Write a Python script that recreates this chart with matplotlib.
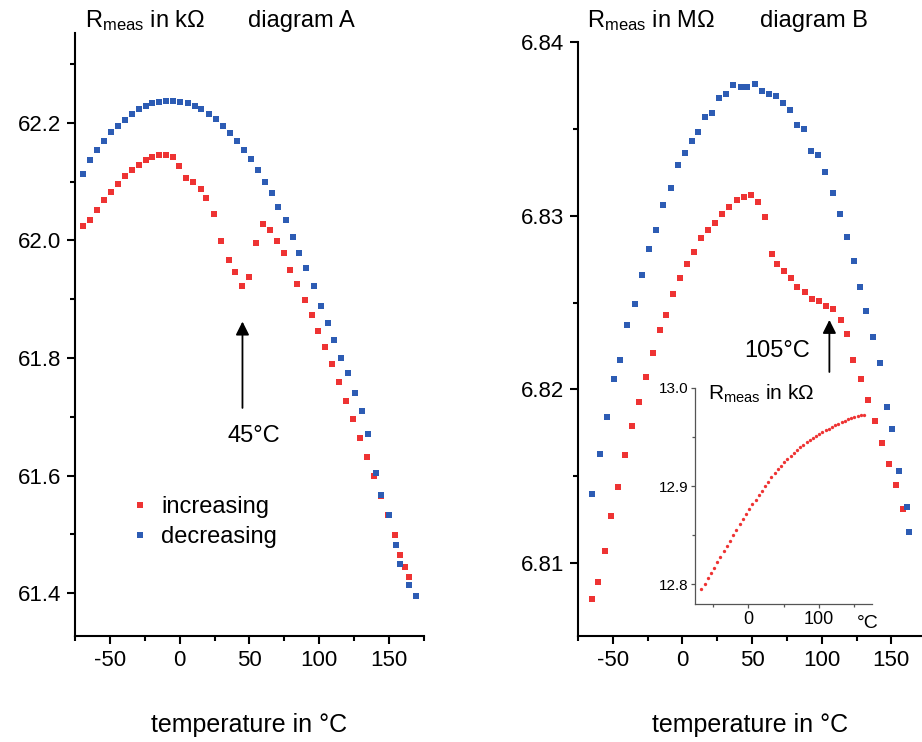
import matplotlib
matplotlib.use("Agg")
import matplotlib.pyplot as plt
from matplotlib.ticker import MultipleLocator, FormatStrFormatter

plt.rcParams['font.family'] = ['Liberation Sans', 'DejaVu Sans']
plt.rcParams['mathtext.default'] = 'regular'
plt.rcParams['axes.unicode_minus'] = False

RED = '#EE3333'
BLUE = '#2D5CB4'

# diagram A: resistance in kOhm, heating run
temp_a_inc = [-69, -64.5, -59.5, -54, -49, -44.5, -39.5, -34, -29, -24, -19.5, -14.5, -10, -5,
              -0.5, 4.5, 9.5, 15, 19, 24.5, 29.5, 35, 40, 44.5, 50, 55, 59.5, 64.5, 69.5, 74.5,
              79, 84, 89.5, 94.5, 99, 104, 109, 114.5, 119.5, 124, 129, 134.5, 139, 144, 149,
              154, 158, 161.5, 164.5]
res_a_inc = [62.025, 62.035, 62.052, 62.068, 62.083, 62.096, 62.109, 62.120, 62.129, 62.136,
             62.142, 62.145, 62.146, 62.142, 62.127, 62.106, 62.100, 62.088, 62.072, 62.045,
             61.999, 61.967, 61.947, 61.923, 61.937, 61.996, 62.028, 62.017, 61.999, 61.978,
             61.949, 61.926, 61.899, 61.873, 61.846, 61.818, 61.789, 61.759, 61.727, 61.696,
             61.663, 61.631, 61.599, 61.565, 61.532, 61.499, 61.465, 61.445, 61.428]

# diagram A: cooling run
temp_a_dec = [-69, -64, -59, -54, -49, -44.5, -39.5, -34, -29, -24, -19.5, -15, -9.5, -4.5,
              0.5, 6, 11, 15.5, 21, 26, 31, 36, 41, 46, 51, 56, 61, 66, 70.5, 76, 81, 85.5,
              90.5, 96, 101, 106, 110.5, 115.5, 120.5, 125.5, 130.5, 135, 140.5, 144.5, 150,
              155, 158, 164, 169]
res_a_dec = [62.113, 62.136, 62.154, 62.169, 62.184, 62.195, 62.205, 62.215, 62.223, 62.229,
             62.234, 62.236, 62.238, 62.238, 62.236, 62.233, 62.229, 62.223, 62.215, 62.206,
             62.195, 62.182, 62.169, 62.153, 62.138, 62.119, 62.099, 62.080, 62.057, 62.034,
             62.006, 61.979, 61.953, 61.923, 61.889, 61.859, 61.830, 61.800, 61.774, 61.741,
             61.710, 61.670, 61.604, 61.567, 61.533, 61.482, 61.450, 61.414, 61.395]

# diagram B: resistance in MOhm, heating run
temp_b_inc = [-65, -60.5, -55.5, -51, -46, -41, -36, -31, -26, -21, -16, -12, -6.5, -1.5, 3,
              8, 13, 18, 23.5, 28.5, 33.5, 39, 44, 49, 54, 59, 64.5, 68, 73, 78, 82.5, 88, 93,
              98, 103, 108, 113.5, 118, 122.5, 128, 133.5, 138.5, 143, 148.5, 153.5, 158]
res_b_inc = [6.8079, 6.8089, 6.8107, 6.8127, 6.8144, 6.8162, 6.8179, 6.8193, 6.8207, 6.8221,
             6.8234, 6.8243, 6.8255, 6.8264, 6.8272, 6.8279, 6.8287, 6.8292, 6.8296, 6.8301,
             6.8305, 6.8309, 6.8311, 6.8312, 6.8308, 6.8299, 6.8278, 6.8272, 6.8268, 6.8264,
             6.8259, 6.8256, 6.8252, 6.8251, 6.8248, 6.8246, 6.8240, 6.8232, 6.8217, 6.8206,
             6.8194, 6.8182, 6.8169, 6.8157, 6.8145, 6.8131]

# diagram B: cooling run
temp_b_dec = [-65, -59, -54.5, -49, -44.5, -39.5, -34, -29, -24, -19, -14, -8.5, -3.5, 1.5,
              6.5, 11.5, 16, 21.5, 26.5, 31.5, 36.5, 42, 46.5, 52, 57, 62, 67.5, 72.5, 77.5,
              82, 87, 92, 97.5, 102.5, 108, 113, 118, 123, 127.5, 132, 136.5, 141.5, 147,
              150.5, 155.5, 161, 163]
res_b_dec = [6.8140, 6.8163, 6.8184, 6.8206, 6.8217, 6.8237, 6.8249, 6.8266, 6.8281, 6.8292,
             6.8306, 6.8316, 6.8329, 6.8336, 6.8343, 6.8348, 6.8357, 6.8359, 6.8368, 6.8370,
             6.8375, 6.8374, 6.8374, 6.8376, 6.8372, 6.8370, 6.8369, 6.8365, 6.8361, 6.8352,
             6.8350, 6.8337, 6.8335, 6.8325, 6.8313, 6.8301, 6.8288, 6.8274, 6.8259, 6.8245,
             6.8230, 6.8215, 6.8190, 6.8177, 6.8153, 6.8132, 6.8118]

# inset: reference resistor in kOhm
temp_ref = [-66, -61.5, -57, -52.5, -48, -43.5, -39, -34.5, -30, -25.5, -21, -16.5, -12, -7.5,
            -3, 1.5, 6, 10.5, 15, 19.5, 24, 28.5, 33, 37.5, 42, 46.5, 51, 55.5, 60, 64.5, 69,
            73.5, 78, 82.5, 87, 91.5, 96, 100.5, 105, 109.5, 114, 118.5, 123, 127.5, 132,
            136.5, 141, 145.5, 150, 154.5, 159, 163.5]
res_ref = [12.795, 12.8005, 12.806, 12.8115, 12.817, 12.8225, 12.828, 12.8335, 12.839, 12.8445,
           12.850, 12.8555, 12.861, 12.8663, 12.8715, 12.8766, 12.8815, 12.8863, 12.891,
           12.8955, 12.900, 12.9045, 12.909, 12.913, 12.917, 12.921, 12.925, 12.928, 12.931,
           12.934, 12.937, 12.9395, 12.942, 12.9445, 12.947, 12.949, 12.951, 12.953, 12.955,
           12.957, 12.9585, 12.960, 12.962, 12.9635, 12.965, 12.9665, 12.968, 12.969, 12.970,
           12.971, 12.972, 12.973]


def style_axes(ax, ymajor, yminor, size=16, lw=1.5):
    for side in ('top', 'right'):
        ax.spines[side].set_visible(False)
    for side in ('left', 'bottom'):
        ax.spines[side].set_linewidth(lw)
    ax.xaxis.set_major_locator(MultipleLocator(50))
    ax.xaxis.set_minor_locator(MultipleLocator(25))
    ax.yaxis.set_major_locator(MultipleLocator(ymajor))
    ax.yaxis.set_minor_locator(MultipleLocator(yminor))
    ax.tick_params(which='major', length=6, width=lw, labelsize=size, pad=4)
    ax.tick_params(which='minor', length=3.5, width=lw)
    ax.patch.set_alpha(0)


fig = plt.figure(figsize=(9.22, 7.42), dpi=100)

# ---- diagram A ----
ax1 = fig.add_axes([0.0813, 0.1429, 0.3785, 0.8127])
ax1.plot(temp_a_inc, res_a_inc, 's', color=RED, ms=5, mew=0, label='increasing')
ax1.plot(temp_a_dec, res_a_dec, 's', color=BLUE, ms=5, mew=0, label='decreasing')
ax1.set_xlim(-75, 175)
ax1.set_ylim(61.327, 62.353)
style_axes(ax1, 0.2, 0.1)
ax1.yaxis.set_major_formatter(FormatStrFormatter('%.1f'))
ax1.set_xlabel('temperature in °C', fontsize=18, labelpad=30)
ax1.annotate('', xy=(45, 61.862), xytext=(45, 61.715),
             arrowprops=dict(arrowstyle='-|>', color='black', lw=1.3, mutation_scale=20,
                             shrinkA=0, shrinkB=0))
ax1.text(53, 61.667, '45°C', fontsize=17, ha='center', va='center')
ax1.legend(loc='upper left', bbox_to_anchor=(0.152, 0.232), frameon=False, fontsize=17,
           handlelength=1.0, handletextpad=0.4, labelspacing=0.35, borderpad=0,
           borderaxespad=0)

# ---- diagram B ----
ax2 = fig.add_axes([0.6269, 0.1429, 0.3731, 0.8005])
ax2.plot(temp_b_inc, res_b_inc, 's', color=RED, ms=5, mew=0)
ax2.plot(temp_b_dec, res_b_dec, 's', color=BLUE, ms=5, mew=0)
ax2.set_xlim(-75, 172)
ax2.set_ylim(6.8058, 6.84)
style_axes(ax2, 0.01, 0.005)
ax2.yaxis.set_major_formatter(FormatStrFormatter('%.2f'))
ax2.set_xlabel('temperature in °C', fontsize=18, labelpad=30)
ax2.annotate('', xy=(105.5, 6.8240), xytext=(105.5, 6.8210),
             arrowprops=dict(arrowstyle='-|>', color='black', lw=1.3, mutation_scale=20,
                             shrinkA=0, shrinkB=0))
ax2.text(68, 6.8222, '105°C', fontsize=17, ha='center', va='center')

# ---- inset ----
ax3 = fig.add_axes([0.7538, 0.186, 0.192, 0.2911])
ax3.plot(temp_ref, res_ref, 'o', color=RED, ms=2.4, mew=0)
ax3.set_xlim(-75, 175)
ax3.set_ylim(12.78, 13.0)
for side in ('top', 'right'):
    ax3.spines[side].set_visible(False)
for side in ('left', 'bottom'):
    ax3.spines[side].set_linewidth(0.9)
    ax3.spines[side].set_color('#555555')
ax3.xaxis.set_major_locator(MultipleLocator(100))
ax3.xaxis.set_minor_locator(MultipleLocator(50))
ax3.yaxis.set_major_locator(MultipleLocator(0.1))
ax3.yaxis.set_minor_locator(MultipleLocator(0.05))
ax3.yaxis.set_major_formatter(FormatStrFormatter('%.1f'))
ax3.tick_params(which='major', length=3, width=0.9, color='#555555', labelsize=11, pad=2)
ax3.tick_params(axis='x', labelsize=13)
ax3.tick_params(which='minor', length=2, width=0.9, color='#555555')
ax3.patch.set_alpha(0)
ax3.text(0.977, -0.09, '°C', transform=ax3.transAxes, fontsize=14, ha='center', va='center')
ax3.text(0.073, 0.944, 'R$_{meas}$ in kΩ', transform=ax3.transAxes, fontsize=15,
         ha='left', va='baseline')

# ---- headers ----
fig.text(0.0922, 0.9636, 'R$_{meas}$ in kΩ', fontsize=17, va='baseline')
fig.text(0.269, 0.9636, 'diagram A', fontsize=17, va='baseline')
fig.text(0.6367, 0.9636, 'R$_{meas}$ in MΩ', fontsize=17, va='baseline')
fig.text(0.824, 0.9636, 'diagram B', fontsize=17, va='baseline')

fig.savefig('out.png', dpi=100)
